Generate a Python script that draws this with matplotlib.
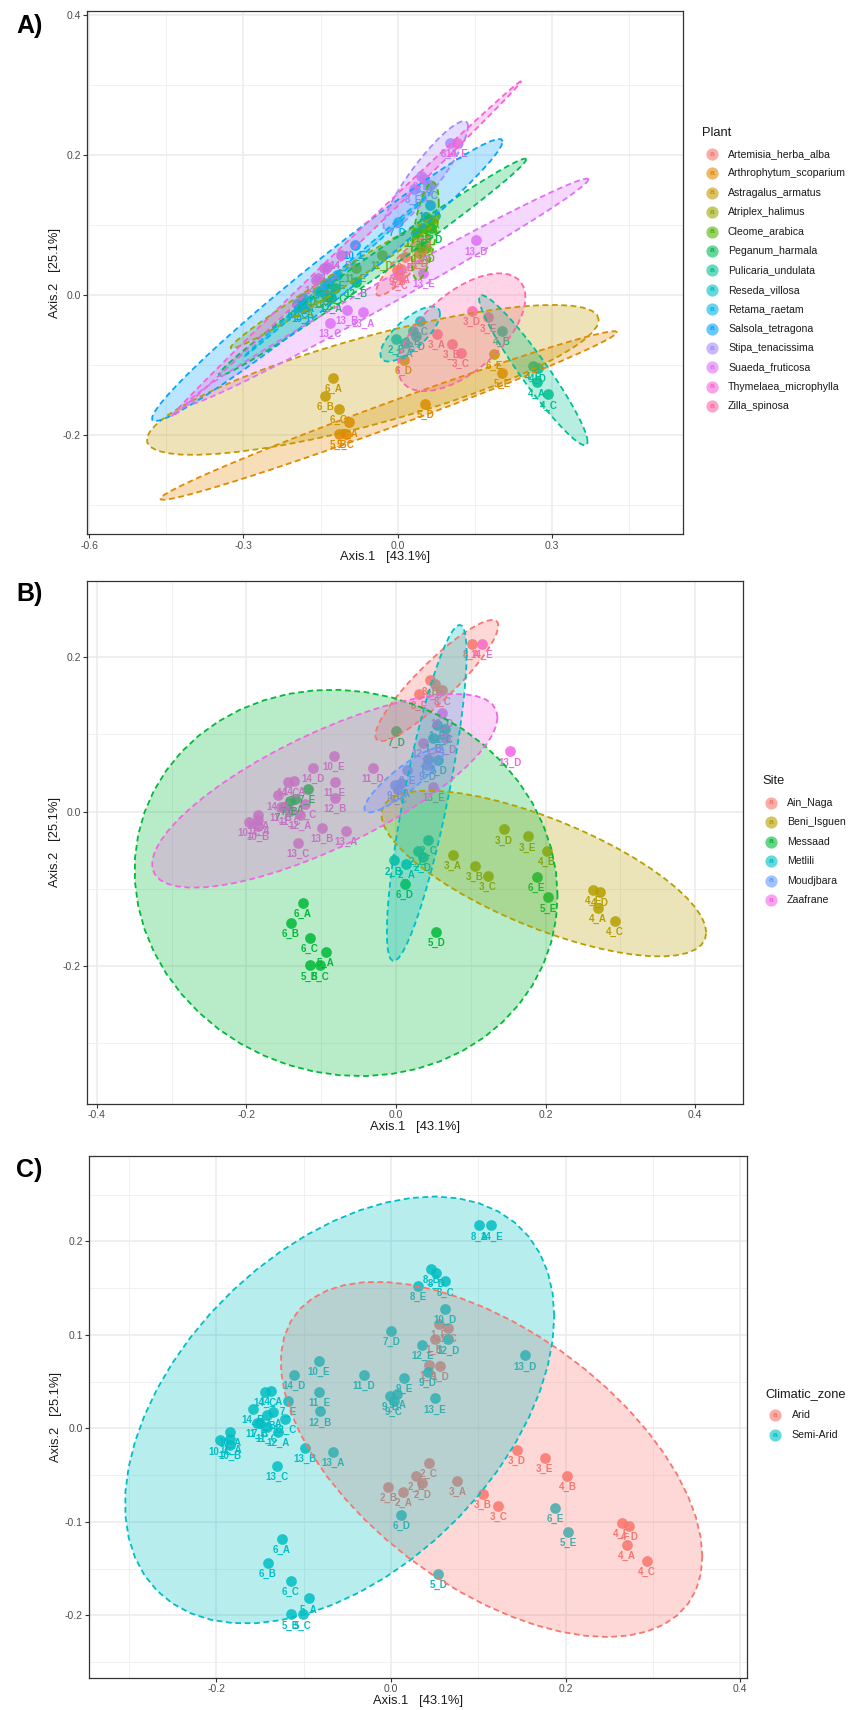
import numpy as np
import matplotlib
matplotlib.use("Agg")
import matplotlib.pyplot as plt
from matplotlib.patches import Polygon
from matplotlib.lines import Line2D

plt.rcParams['font.family'] = ['Liberation Sans', 'DejaVu Sans']
plt.rcParams['axes.unicode_minus'] = False

# ---------------- data ----------------
sample_ids = [f"{n}_{l}" for n in range(1, 15) for l in "ABCDE"]

axis1 = [
    0.043, 0.050, 0.065, 0.056, 0.055,        # 1
    0.014, -0.003, 0.043, 0.036, 0.029,       # 2
    0.076, 0.105, 0.123, 0.144, 0.176,        # 3
    0.270, 0.202, 0.293, 0.273, 0.264,        # 4
    -0.094, -0.115, -0.101, 0.054, 0.203,     # 5
    -0.125, -0.141, -0.115, 0.012, 0.188,     # 6
    -0.135, -0.142, -0.150, 0.000, -0.118,    # 7
    0.101, 0.046, 0.062, 0.052, 0.031,        # 8
    0.007, -0.001, 0.003, 0.042, 0.015,       # 9
    -0.185, -0.184, -0.196, 0.062, -0.083,    # 10
    -0.184, -0.154, -0.142, -0.031, -0.082,   # 11
    -0.129, -0.081, -0.121, 0.065, 0.036,     # 12
    -0.067, -0.099, -0.131, 0.153, 0.050,     # 13
    -0.137, -0.158, -0.144, -0.111, 0.115,    # 14
]
axis2 = [
    0.068, 0.096, 0.107, 0.067, 0.112,
    -0.068, -0.063, -0.037, -0.059, -0.051,
    -0.056, -0.070, -0.083, -0.023, -0.032,
    -0.125, -0.051, -0.142, -0.104, -0.101,
    -0.182, -0.199, -0.199, -0.156, -0.111,
    -0.118, -0.144, -0.163, -0.093, -0.085,
    0.017, 0.014, 0.006, 0.104, 0.029,
    0.217, 0.170, 0.157, 0.166, 0.152,
    0.037, 0.035, 0.029, 0.060, 0.054,
    -0.004, -0.018, -0.013, 0.128, 0.072,
    -0.011, 0.006, 0.001, 0.057, 0.039,
    -0.004, 0.018, 0.010, 0.095, 0.089,
    -0.025, -0.021, -0.040, 0.078, 0.032,
    0.040, 0.021, 0.039, 0.057, 0.217,
]

plant_levels = ["Artemisia_herba_alba", "Arthrophytum_scoparium", "Astragalus_armatus",
                "Atriplex_halimus", "Cleome_arabica", "Peganum_harmala",
                "Pulicaria_undulata", "Reseda_villosa", "Retama_raetam",
                "Salsola_tetragona", "Stipa_tenacissima", "Suaeda_fruticosa",
                "Thymelaea_microphylla", "Zilla_spinosa"]
# plant of sample number 1..14
plant_by_number = ["Cleome_arabica", "Reseda_villosa", "Zilla_spinosa",
                   "Pulicaria_undulata", "Arthrophytum_scoparium", "Astragalus_armatus",
                   "Retama_raetam", "Stipa_tenacissima", "Artemisia_herba_alba",
                   "Salsola_tetragona", "Atriplex_halimus", "Peganum_harmala",
                   "Suaeda_fruticosa", "Thymelaea_microphylla"]

site_levels = ["Ain_Naga", "Beni_Isguen", "Messaad", "Metlili", "Moudjbara", "Zaafrane"]
site_by_number = ["Metlili", "Metlili", "Beni_Isguen", "Beni_Isguen",
                  "Messaad", "Messaad", "Messaad", "Ain_Naga", "Moudjbara",
                  "Zaafrane", "Zaafrane", "Zaafrane", "Zaafrane", "Zaafrane"]

zone_levels = ["Arid", "Semi-Arid"]
zone_by_site = {"Ain_Naga": "Semi-Arid", "Beni_Isguen": "Arid", "Messaad": "Semi-Arid",
                "Metlili": "Arid", "Moudjbara": "Semi-Arid", "Zaafrane": "Semi-Arid"}

plant_colors = ["#F8766D", "#E38900", "#C49A00", "#99A800", "#53B400", "#00BC56", "#00C094",
                "#00BFC4", "#00B6EB", "#06A4FF", "#A58AFF", "#DF70F8", "#FB61D7", "#FF66A8"]
site_colors = ["#F8766D", "#B79F00", "#00BA38", "#00BFC4", "#619CFF", "#F564E3"]
zone_colors = ["#F8766D", "#00BFC4"]

numbers = [int(s.split("_")[0]) for s in sample_ids]
plant = [plant_by_number[n - 1] for n in numbers]
site = [site_by_number[n - 1] for n in numbers]
zone = [zone_by_site[s] for s in site]


# ---------------- helpers ----------------
def cov_trob(x, nu=5, maxit=25, tol=0.01):
    n, p = x.shape
    wt = np.ones(n)
    loc = x.mean(axis=0)
    w = np.sqrt(wt)
    X = x - loc
    for _ in range(maxit):
        w0 = w
        X = x - loc
        _, d, vt = np.linalg.svd(np.sqrt(wt / wt.sum())[:, None] * X, full_matrices=False)
        wX = X @ vt.T @ np.diag(1.0 / d)
        Q = (wX ** 2).sum(axis=1)
        w = (wt * (nu + p)) / (nu + Q)
        loc = (w[:, None] * x).sum(axis=0) / w.sum()
        if np.all(np.abs(w - w0) < tol):
            break
    sx = np.sqrt(w)[:, None] * X
    cov = sx.T @ sx / wt.sum()
    return loc, cov


def ellipse_path(xs, ys, level=0.95, segments=51):
    pts = np.column_stack([xs, ys])
    n = len(pts)
    center, shape = cov_trob(pts)
    dfd = n - 1
    qf = (dfd / 2.0) * ((1 - level) ** (-2.0 / dfd) - 1)
    radius = np.sqrt(2 * qf)
    R = np.linalg.cholesky(shape).T
    ang = np.linspace(0, 2 * np.pi, segments + 1)
    uc = np.column_stack([np.cos(ang), np.sin(ang)])
    return center + radius * (uc @ R)


W, H = 849, 1710
fig = plt.figure(figsize=(W / 100, H / 100), dpi=100)


def px_rect(l, t, r, b):
    return [l / W, 1 - b / H, (r - l) / W, (b - t) / H]


def draw_panel(rect, groups, levels, colors, xlim, ylim, xt, xmin, yt, ymin,
               ylab_x, xlab_y):
    ax = fig.add_axes(rect)
    cmap = dict(zip(levels, colors))
    x = np.array(axis1)
    y = np.array(axis2)
    g = np.array(groups)
    for lev in levels:
        m = g == lev
        if m.sum() == 0:
            continue
        ax.scatter(x[m], y[m], s=60, color=cmap[lev], alpha=0.85, lw=0, zorder=3)
    for xi, yi, sid, gi in zip(x, y, sample_ids, groups):
        ax.annotate(sid, (xi, yi), xytext=(0, -8), textcoords="offset points",
                    ha="center", va="center", fontsize=7, fontweight="bold",
                    color=cmap[gi], zorder=4)
    for lev in levels:
        m = g == lev
        if m.sum() < 3:
            continue
        e = ellipse_path(x[m], y[m])
        ax.add_patch(Polygon(e, closed=True, facecolor=cmap[lev], alpha=0.28,
                             edgecolor="none", zorder=5))
        ax.plot(e[:, 0], e[:, 1], color=cmap[lev], lw=1.3, ls=(0, (3.2, 2)), zorder=6)
    ax.set_xlim(*xlim)
    ax.set_ylim(*ylim)
    ax.set_xticks(xt)
    ax.set_xticklabels([f"{v:.1f}" for v in xt])
    ax.set_xticks(xmin, minor=True)
    ax.set_yticks(yt)
    ax.set_yticklabels([f"{v:.1f}" for v in yt])
    ax.set_yticks(ymin, minor=True)
    ax.grid(which="major", color="#EBEBEB", lw=1.1)
    ax.grid(which="minor", color="#F0F0F0", lw=0.7)
    ax.set_axisbelow(True)
    ax.tick_params(which="major", length=2.8, width=0.8, color="#333333",
                   labelsize=7.5, labelcolor="#4D4D4D", pad=2)
    ax.tick_params(which="minor", length=0)
    for sp in ax.spines.values():
        sp.set_color("#333333")
        sp.set_linewidth(0.9)
    ax.set_xlabel("Axis.1   [43.1%]", fontsize=9.3, color="#1a1a1a")
    ax.set_ylabel("Axis.2   [25.1%]", fontsize=9.3, color="#1a1a1a")
    ax.xaxis.set_label_coords(0.5, xlab_y)
    ax.yaxis.set_label_coords(ylab_x, 0.5)
    return ax


def draw_legend(title, levels, colors, title_x, title_y, key_x, text_x, y0, dy):
    fig.text(title_x / W, 1 - title_y / H, title, fontsize=9.3, va="center",
             ha="left", color="#1a1a1a")
    for i, (lev, c) in enumerate(zip(levels, colors)):
        yy = 1 - (y0 + i * dy) / H
        fig.add_artist(Line2D([key_x / W], [yy], marker="o", markersize=8.8,
                              color=c, alpha=0.6, mew=0, ls="none",
                              transform=fig.transFigure))
        fig.text(key_x / W, yy, "a", fontsize=6, color=c, ha="center",
                 va="center", fontweight="bold")
        fig.text(text_x / W, yy, lev, fontsize=7.6, va="center", ha="left",
                 color="#1a1a1a")


# Panel A
draw_panel(px_rect(87.3, 11, 683.3, 534.3), plant, plant_levels, plant_colors,
           (-0.6035, 0.5553), (-0.3419, 0.4057),
           [-0.6, -0.3, 0.0, 0.3], [-0.45, -0.15, 0.15, 0.45],
           [-0.2, 0.0, 0.2, 0.4], [-0.3, -0.1, 0.1, 0.3],
           -0.044, -0.032)
draw_legend("Plant", plant_levels, plant_colors, 702, 133, 712, 728, 154, 19.4)

# Panel B
draw_panel(px_rect(87.3, 581, 742.7, 1103.7), site, site_levels, site_colors,
           (-0.4127, 0.4635), (-0.3782, 0.2988),
           [-0.4, -0.2, 0.0, 0.2, 0.4], [-0.3, -0.1, 0.1, 0.3],
           [-0.2, 0.0, 0.2], [-0.3, -0.1, 0.1],
           -0.040, -0.033)
draw_legend("Site", site_levels, site_colors, 762, 781, 770.7, 787, 802.7, 19.5)

# Panel C
draw_panel(px_rect(89.3, 1155.7, 746.7, 1677.7), zone, zone_levels, zone_colors,
           (-0.3456, 0.4074), (-0.2667, 0.2915),
           [-0.2, 0.0, 0.2, 0.4], [-0.3, -0.1, 0.1, 0.3],
           [-0.2, -0.1, 0.0, 0.1, 0.2], [-0.25, -0.15, -0.05, 0.05, 0.15, 0.25],
           -0.0415, -0.034)
draw_legend("Climatic_zone", zone_levels, zone_colors, 765.7, 1394, 775, 791.7, 1415, 20)

# panel letters
for lab, yc in [("A)", 26.5), ("B)", 594.5), ("C)", 1169.5)]:
    fig.text(16 / W, 1 - yc / H, lab, fontsize=18, fontweight="bold",
             ha="left", va="center", color="black")

fig.savefig("out.png", dpi=100)
